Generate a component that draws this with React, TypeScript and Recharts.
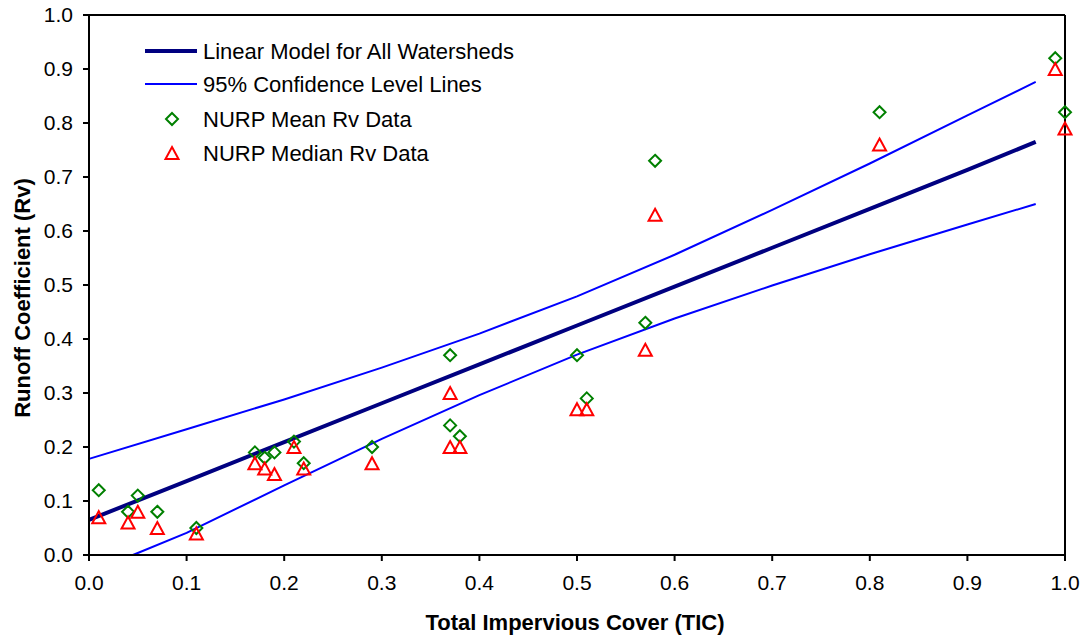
import {
  ComposedChart,
  Line,
  Scatter,
  XAxis,
  YAxis,
  ReferenceLine,
} from "recharts";

// NURP watershed data
const tic = [0.01, 0.04, 0.05, 0.07, 0.11, 0.17, 0.18, 0.19, 0.21, 0.22, 0.29, 0.37, 0.37, 0.38, 0.5, 0.51, 0.57, 0.58, 0.81, 0.99, 1.0];
const meanRv = [0.12, 0.08, 0.11, 0.08, 0.05, 0.19, 0.18, 0.19, 0.21, 0.17, 0.2, 0.37, 0.24, 0.22, 0.37, 0.29, 0.43, 0.73, 0.82, 0.92, 0.82];
const medianRv = [0.07, 0.06, 0.08, 0.05, 0.04, 0.17, 0.16, 0.15, 0.2, 0.16, 0.17, 0.3, 0.2, 0.2, 0.27, 0.27, 0.38, 0.63, 0.76, 0.9, 0.79];

// model + confidence lines
const modelX = [0, 0.1, 0.2, 0.3, 0.4, 0.5, 0.6, 0.7, 0.8, 0.9, 0.97];
const modelRv = [0.065, 0.137, 0.209, 0.281, 0.353, 0.425, 0.497, 0.569, 0.641, 0.713, 0.765];
const upperRv = [0.178, 0.233, 0.288, 0.347, 0.41, 0.479, 0.556, 0.639, 0.725, 0.814, 0.876];
const lowerX = [0.045, 0.1, 0.2, 0.3, 0.4, 0.5, 0.6, 0.7, 0.8, 0.9, 0.97];
const lowerRv = [0.0, 0.041, 0.129, 0.215, 0.296, 0.371, 0.438, 0.499, 0.557, 0.612, 0.65];

const ticks = [0, 0.1, 0.2, 0.3, 0.4, 0.5, 0.6, 0.7, 0.8, 0.9, 1.0];

const meanData = tic.map((x, i) => ({ x, y: meanRv[i] }));
const medianData = tic.map((x, i) => ({ x, y: medianRv[i] }));
const modelData = modelX.map((x, i) => ({ x, y: modelRv[i] }));
const upperData = modelX.map((x, i) => ({ x, y: upperRv[i] }));
const lowerData = lowerX.map((x, i) => ({ x, y: lowerRv[i] }));

const FONT = "'Liberation Sans', Arial, sans-serif";

const Diamond = (props: any) => {
  const { cx, cy } = props;
  const r = 6;
  return (
    <polygon
      points={`${cx},${cy - r} ${cx + r},${cy} ${cx},${cy + r} ${cx - r},${cy}`}
      fill="none"
      stroke="#008000"
      strokeWidth={2}
    />
  );
};

const Triangle = (props: any) => {
  const { cx, cy } = props;
  return (
    <polygon
      points={`${cx},${cy - 6} ${cx + 6.5},${cy + 6} ${cx - 6.5},${cy + 6}`}
      fill="none"
      stroke="#ff0000"
      strokeWidth={2}
    />
  );
};

function ChartLegend() {
  const txt = { fontFamily: FONT, fontSize: 22, fill: "#000" };
  return (
    <svg width={440} height={150} style={{ position: "absolute", left: 140, top: 30 }}>
      <line x1={5} x2={57} y1={21} y2={21} stroke="#000080" strokeWidth={4} />
      <text x={63} y={21} dy="0.35em" {...txt}>Linear Model for All Watersheds</text>
      <line x1={5} x2={57} y1={54} y2={54} stroke="#0000ff" strokeWidth={2} />
      <text x={63} y={54} dy="0.35em" {...txt}>95% Confidence Level Lines</text>
      <Diamond cx={32} cy={89} />
      <text x={63} y={89} dy="0.35em" {...txt}>NURP Mean Rv Data</text>
      <Triangle cx={32} cy={123} />
      <text x={63} y={123} dy="0.35em" {...txt}>NURP Median Rv Data</text>
    </svg>
  );
}

export default function App() {
  const tickStyle = { fontFamily: FONT, fontSize: 21, fill: "#000" };
  return (
    <div style={{ position: "absolute", left: 0, top: 0, width: 1084, height: 640, background: "#fff" }}>
      <ComposedChart width={1084} height={640} margin={{ top: 15, right: 19, left: 9, bottom: 0 }}>
        <XAxis
          type="number"
          dataKey="x"
          domain={[0, 1]}
          ticks={ticks}
          tickFormatter={(v: number) => v.toFixed(1)}
          tick={tickStyle}
          tickSize={6}
          tickMargin={14}
          height={85}
          axisLine={{ stroke: "#000", strokeWidth: 2 }}
          tickLine={{ stroke: "#000", strokeWidth: 2 }}
          label={{
            content: () => (
              <text x={575} y={622} textAnchor="middle" dominantBaseline="central" fontFamily={FONT} fontSize={22} fontWeight="bold" fill="#000">
                Total Impervious Cover (TIC)
              </text>
            ),
          }}
        />
        <YAxis
          type="number"
          dataKey="y"
          domain={[0, 1]}
          ticks={ticks}
          tickFormatter={(v: number) => v.toFixed(1)}
          tick={tickStyle}
          tickSize={6}
          tickMargin={10}
          width={80}
          axisLine={{ stroke: "#000", strokeWidth: 2 }}
          tickLine={{ stroke: "#000", strokeWidth: 2 }}
          label={{
            content: () => (
              <text x={22} y={298} transform="rotate(-90 22 298)" textAnchor="middle" dominantBaseline="central" fontFamily={FONT} fontSize={22} fontWeight="bold" fill="#000">
                Runoff Coefficient (Rv)
              </text>
            ),
          }}
        />
        <ReferenceLine y={1} stroke="#000" strokeWidth={2} />
        <ReferenceLine x={1} stroke="#000" strokeWidth={2} />
        <Line data={upperData} dataKey="y" stroke="#0000ff" strokeWidth={2} dot={false} isAnimationActive={false} />
        <Line data={lowerData} dataKey="y" stroke="#0000ff" strokeWidth={2} dot={false} isAnimationActive={false} />
        <Line data={modelData} dataKey="y" stroke="#000080" strokeWidth={4} dot={false} isAnimationActive={false} />
        <Scatter data={meanData} dataKey="y" shape={Diamond} isAnimationActive={false} />
        <Scatter data={medianData} dataKey="y" shape={Triangle} isAnimationActive={false} />
      </ComposedChart>
      <ChartLegend />
    </div>
  );
}
